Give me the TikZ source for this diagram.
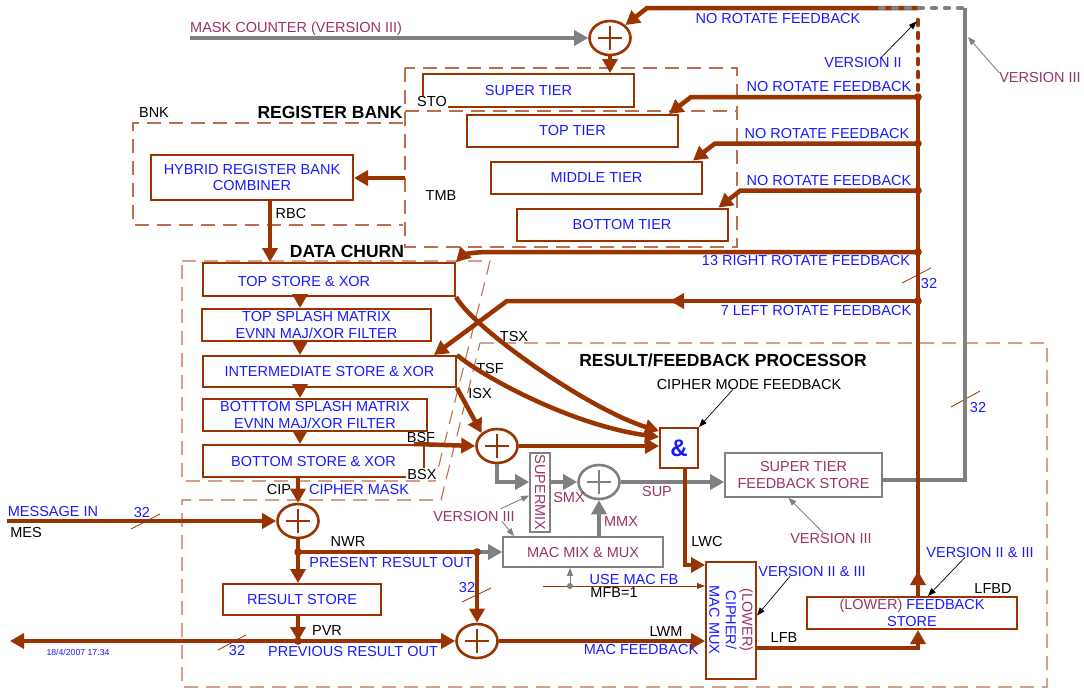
\documentclass[tikz,border=0pt]{standalone}
\usepackage{fontspec}
\setmainfont{Liberation Sans}
\usetikzlibrary{arrows.meta,shapes.geometric}
\definecolor{rust}{RGB}{153,51,0}
\definecolor{dashrust}{RGB}{190,110,80}
\definecolor{txtblue}{RGB}{25,25,255}
\definecolor{plum}{RGB}{153,51,102}
\definecolor{mgray}{RGB}{128,128,128}
\newcommand{\lblfont}{\fontsize{14.5}{16.5}\selectfont}

\begin{document}
\begin{tikzpicture}[x=1pt, y=-1pt, every node/.style={font=\lblfont, inner sep=0pt},
  bus/.style={draw=rust, line width=4.5pt},
  fbarrow/.style={bus, -{Triangle[length=14pt,width=15pt]}},
  gbus/.style={draw=mgray, line width=4.2pt},
  garrow/.style={gbus, -{Triangle[length=14pt,width=15pt]}},
  pointer/.style={draw=black, line width=0.7pt, -{Triangle[length=8pt,width=6pt]}},
  gpointer/.style={draw=mgray, line width=0.9pt, -{Triangle[length=8pt,width=6pt]}},
  regbox/.style={draw=rust, line width=2pt, text=txtblue, align=center},
  gbox/.style={draw=mgray, line width=1.7pt, text=plum, align=center},
  xorc/.style={ellipse, draw=#1, line width=2.6pt, minimum width=41pt, minimum height=34pt,
    path picture={\draw[#1, line width=2.6pt] (path picture bounding box.center) ++(-12pt,0) -- ++(24pt,0)
      (path picture bounding box.center) ++(0,-12pt) -- ++(0,24pt);}},
  xorc/.default=rust,
  region/.style={draw=dashrust, line width=1.1pt, dash pattern=on 14pt off 8pt},
  blab/.style={text=txtblue}, plab/.style={text=plum},
  title/.style={font=\fontsize{17.5}{20}\selectfont\bfseries},
  slash/.style={draw=rust, line width=0.8pt}]
\useasboundingbox (0,0) rectangle (1084,689);

% dashed regions
\draw[region] (403,123) -- (133,123) -- (133,225) -- (403,225);
\draw[region] (405,68) rectangle (737,247);
\draw[region] (405,111) -- (737,111);
\draw[region] (182,261) -- (490,261) -- (435,481) -- (182,481) -- cycle;
\draw[region] (480,343) -- (1047,343) -- (1047,687) -- (182,687) -- (182,500) -- (441,500) -- cycle;

% register bank
\node[regbox, minimum width=202pt, minimum height=45pt] (hrb) at (252,177.5) {HYBRID REGISTER BANK\\COMBINER};
\node[regbox, minimum width=211pt, minimum height=33pt] (super) at (528.5,90.5) {SUPER TIER};
\foreach \nm/\x/\y/\txt in {toptier/572.5/131/TOP TIER, midtier/596.5/177.5/MIDDLE TIER, bottier/622/224.5/BOTTOM TIER}
  \node[regbox, minimum width=211pt, minimum height=32pt] (\nm) at (\x,\y) {\txt};

% data churn
\node[regbox, minimum width=252pt, minimum height=33pt] (tsx) at (329,279.5) {};
\node[blab] (tsxt) at (304,282) {TOP STORE \& XOR};
\node[regbox, minimum width=229pt, minimum height=32pt] (tsm) at (316.5,325) {TOP SPLASH MATRIX\\EVNN MAJ/XOR FILTER};
\node[regbox, minimum width=253pt, minimum height=31pt] (ism) at (329.5,371.5) {INTERMEDIATE STORE \& XOR};
\node[regbox, minimum width=224pt, minimum height=32pt] (bsm) at (315,415) {BOTTTOM SPLASH MATRIX\\EVNN MAJ/XOR FILTER};
\node[regbox, minimum width=221pt, minimum height=32pt] (bsx) at (313.5,461) {BOTTOM STORE \& XOR};

% result / feedback processor
\node[regbox, minimum width=158pt, minimum height=31pt] (rstore) at (302,599.5) {RESULT STORE};
\node[gbox, minimum width=157pt, minimum height=44pt] (stfs) at (803.5,475) {SUPER TIER\\FEEDBACK STORE};
\node[gbox, minimum width=160pt, minimum height=30pt] (macmix) at (583,552) {MAC MIX \& MUX};
\node[gbox, minimum width=20pt, minimum height=79pt] (smix) at (540,492.5) {};
\node[plab, rotate=-90] (smixt) at (540,492.5) {SUPERMIX};
\node[regbox, minimum width=38pt, minimum height=40pt, font=\fontsize{24}{24}\selectfont\bfseries] (andb) at (679,448) {\&};
\node[regbox, minimum width=50pt, minimum height=117pt] (mux) at (731,620.5) {};
\node[rotate=-90, align=center, text=txtblue] (muxt) at (731,620) {\textcolor{plum}{(LOWER)}\\CIPHER/\\MAC MUX};
\node[regbox, minimum width=210pt, minimum height=32pt] (lfs) at (912,613) {\textcolor{plum}{(LOWER)} FEEDBACK\\STORE};

\node[xorc] (mcx) at (610,38) {};
\node[xorc] (bsfx) at (497,446) {};
\node[xorc=mgray] (supx) at (599,482) {};
\node[xorc] (mesx) at (298,521) {};
\node[xorc] (pvrx) at (477,641) {};

% labels
\node[plab, anchor=west] (mctext) at (190,29) {MASK COUNTER (VERSION III)};
\node (bnk) at (154,113) {BNK};
\node[title] (rbt) at (330,112) {REGISTER BANK};
\node[fill=white, inner sep=1pt] (sto) at (432,102) {STO};
\node (tmb) at (441,196) {TMB};
\node (rbc) at (291,214) {RBC};
\node[title] (dct) at (347,251) {DATA CHURN};
\node[title] (rfp) at (723,360) {RESULT/FEEDBACK PROCESSOR};
\node[blab] (nrf0) at (778,19) {NO ROTATE FEEDBACK};
\foreach \y/\x [count=\i] in {87/829, 134/827, 181/829}
  \node[blab] (nrf\i) at (\x,\y) {NO ROTATE FEEDBACK};
\node[blab] (r13l) at (806,261) {13 RIGHT ROTATE FEEDBACK};
\node[blab] (l7l) at (816,311) {7 LEFT ROTATE FEEDBACK};
\node[blab] (v2) at (863,63) {VERSION II};
\node[plab] (v3c) at (1040,78) {VERSION III};
\node (tsxl) at (514,336) {TSX};
\node (tsfl) at (490,368) {TSF};
\node (isxl) at (480,393) {ISX};
\node (bsfl) at (421,437) {BSF};
\node[fill=white, inner sep=1pt] (bsxl) at (422,474) {BSX};
\node (cip) at (279,489) {CIP};
\node[blab] (cmask) at (359,489) {CIPHER MASK};
\node (cmf) at (749,384) {CIPHER MODE FEEDBACK};
\node[plab] (supl) at (657,491) {SUP};
\node[plab] (smxl) at (569,497) {SMX};
\node[plab] (mmxl) at (621,522) {MMX};
\node[plab] (v3a) at (474,516) {VERSION III};
\node[plab] (v3b) at (831,538) {VERSION III};
\node (lwcl) at (707,541) {LWC};
\node[blab] (v23a) at (812,571) {VERSION II \& III};
\node[blab] (v23b) at (980,552) {VERSION II \& III};
\node (lfbd) at (993,589) {LFBD};
\node (lfbl) at (784,637) {LFB};
\node (lwml) at (666,632) {LWM};
\node[blab] (macfb) at (641,649) {MAC FEEDBACK};
\node[blab] (usemac) at (634,579) {USE MAC FB};
\node (mfbl) at (614,593) {MFB=1};
\node (nwrl) at (348,542) {NWR};
\node[blab] (pro) at (391,562) {PRESENT RESULT OUT};
\node[blab] (msgin) at (53,511) {MESSAGE IN};
\node (mesl) at (26,532) {MES};
\node (pvrl) at (327,630) {PVR};
\node[blab] (pvo) at (353,651) {PREVIOUS RESULT OUT};
\node[blab, font=\fontsize{8.7}{10}\selectfont] (stamp) at (78,652) {18/4/2007 17:34};
\foreach \x/\y [count=\i] in {142/512, 237/650, 467/587, 929/284, 978/407}
  \node[blab] (w\i) at (\x,\y) {32};
\foreach \xa/\ya/\xb/\yb in {131/529/160/514, 218/650/246/635, 462/602/491/588, 902/283/931/268, 951/407/980/391}
  \draw[slash] (\xa,\ya) -- (\xb,\yb);

% coordinates
\coordinate (bus) at (918,0);
\coordinate (busA) at (918,97);
\coordinate (fbtop) at (918,8);
\coordinate (fbkink) at (647,8);
\coordinate (gcorner) at (965,8);
\coordinate (gdash) at (880,8);
\coordinate (v2top) at (918,20);
\coordinate (v2end) at (918,90);
\coordinate (mcin) at (190,38);
\coordinate (tmbin) at (405,178);
\coordinate (rbcx) at (270,0);
\coordinate (spine) at (300,0);
\coordinate (r13) at (918,252);
\coordinate (l7) at (918,301);
\coordinate (mesin) at (7,521);
\coordinate (nwr) at (298,552);
\coordinate (pvr) at (298,641);
\coordinate (pvrout) at (10,641);
\coordinate (lfb) at (918,648);
\coordinate (lwc) at (685,565);
\coordinate (mfb) at (543,586);
\coordinate (mfbtap) at (570,586);
\coordinate (gvtip) at (968,37);

% feedback bus and mask counter
\draw[garrow] (mcin) -- (mcx.west);
\draw[fbarrow] (fbtop) -- (fbkink) -- (mcx.north east);
\draw[gbus, line cap=round, dash pattern=on 4pt off 9pt] (gdash) -- (gcorner);
\draw[gbus] ([yshift=-5pt]stfs.east) -| (gcorner);
\draw[bus, line cap=round, dash pattern=on 5pt off 8pt] (v2top) -- (v2end);
\draw[bus] (lfs.north -| bus) -- (busA);
\draw[fbarrow] (lfs.north -| bus) -- ++(0,-25);
\foreach \tr in {toptier, midtier, bottier} {
  \coordinate (k) at ([xshift=12pt,yshift=17pt]\tr.north east);
  \draw[fbarrow] (k -| bus) -- (k) -- ([xshift=-10pt]\tr.north east);
  \fill[rust] (k -| bus) circle (3.8pt);
}
\draw[fbarrow] (r13) -- (490,252) .. controls (468,252) and (462,256) .. (tsx.north east);
\draw[fbarrow] (l7) -- (670,301);
\draw[fbarrow] (680,301) -- (507,301) -- ([xshift=-23pt]ism.north east);
\foreach \p in {r13, l7} \fill[rust] (\p) circle (3.8pt);
\draw[fbarrow] (mcx.south) -- (mcx.south |- super.north);
\draw[fbarrow] (tmbin) -- (hrb.east |- tmbin);
\draw[fbarrow] (rbcx |- hrb.south) -- (rbcx |- tsx.north);

% data churn flow
\foreach \a/\b in {tsx/tsm, tsm/ism, ism/bsm, bsm/bsx}
  \draw[fbarrow] (spine |- \a.south) -- (spine |- \b.north);
\draw[fbarrow] (tsx.south east) .. controls (475,330) and (590,410) .. ([yshift=17pt]andb.west);
\draw[fbarrow] (ism.north east) .. controls (480,375) and (570,425) .. ([yshift=11pt]andb.west);
\draw[fbarrow] (ism.south east) -- (bsfx.north west);
\draw[fbarrow] ([xshift=-11pt]bsx.north east) -- (bsfx.west);
\draw[fbarrow] (bsfx.east) -- (bsfx.east -| andb.west);

% super tier path (version III)
\draw[garrow] (bsfx.south) |- (smix.west |- supx);
\draw[garrow] (smix.east |- supx) -- (supx.west);
\draw[garrow] (macmix.north -| supx) -- (supx.south);
\draw[garrow] (supx.east) -- (supx.east -| stfs.west);

% result path
\draw[fbarrow] (mesin) -- (mesx.west);
\draw[fbarrow] (mesx.north |- bsx.south) -- (mesx.north);
\draw[fbarrow] (mesx.south) -- (mesx.south |- rstore.north);
\draw[bus] (nwr) -- (nwr -| pvrx);
\draw[garrow] (nwr -| pvrx) -- (macmix.west);
\draw[fbarrow] (nwr -| pvrx) -- (pvrx.north);
\draw[fbarrow] (mesx.south |- rstore.south) -- (pvr);
\draw[bus, {Triangle[length=14pt,width=15pt]}-{Triangle[length=14pt,width=15pt]}] (pvrout) -- (pvrx.west);
\draw[fbarrow] (pvrx.east) -- (pvrx.east -| mux.west);
\draw[fbarrow] (andb.south -| lwc) -- (lwc) -- (lwc -| mux.west);
\draw[fbarrow] (mux.east |- lfb) -- (lfb) -- (lfs.south -| lfb);
\foreach \p in {nwr, pvr} \fill[rust] (\p) circle (3.8pt);
\fill[rust] (nwr -| pvrx) circle (3.8pt);
\draw[draw=rust, line width=0.9pt, -{Triangle[length=8pt,width=6pt]}] (mfb) -- (mfb -| mux.west);
\draw[gpointer] (mfbtap) -- (mfbtap |- macmix.south);
\fill[mgray] (mfbtap) circle (3pt);

% pointers
\draw[pointer, shorten >=2pt] ([xshift=18pt]v2.north) -- (v2top);
\draw[gpointer] (v3c.north west) -- (gvtip);
\draw[pointer] ([xshift=-16pt]cmf.south) -- (andb.north east);
\draw[gpointer] ([xshift=-14pt,yshift=2pt]v3a.north east) -- ([yshift=-3pt]smix.west);
\draw[gpointer] ([xshift=-13pt]v3a.south east) -- ([xshift=12pt]macmix.north west);
\draw[gpointer] ([xshift=-8pt]v3b.north) -- ([xshift=-15pt]stfs.south);
\draw[pointer] ([xshift=-22pt]v23a.south) -- ([yshift=5pt]mux.east);
\draw[pointer] ([xshift=-15pt]v23b.south) -- ([xshift=16pt]lfs.north);
\end{tikzpicture}
\end{document}
